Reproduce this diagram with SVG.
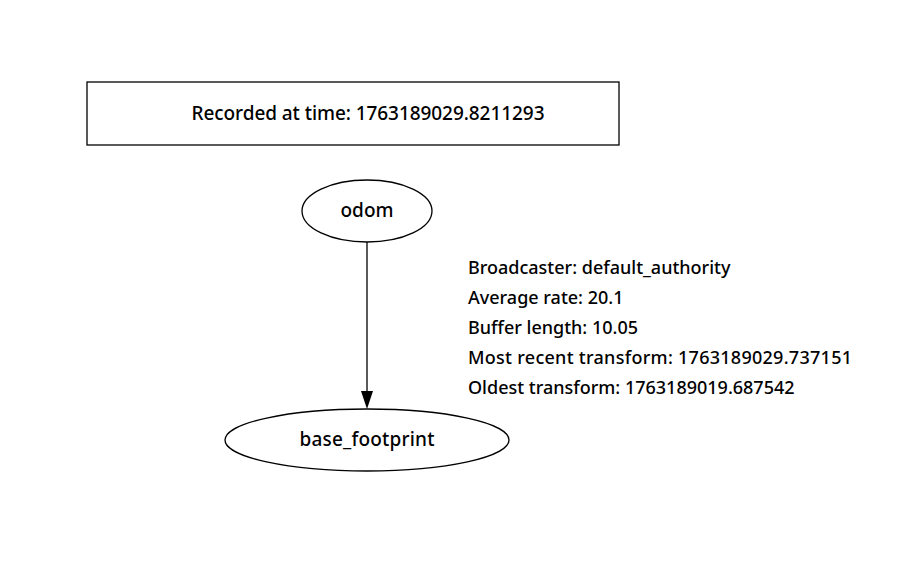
<svg xmlns="http://www.w3.org/2000/svg" width="917" height="573" viewBox="0 0 917 573">
<style>
text{font-family:"Noto Sans","Open Sans",sans-serif;font-size:18px;fill:#000;font-weight:500}
.n{font-size:19px}
.s{fill:none;stroke:#000;stroke-width:1.3}
</style>
<rect width="917" height="573" fill="#fff"/>
<g id="header"><rect class="s" x="87" y="82" width="532" height="63"/><text class="n" x="368" y="120" text-anchor="middle" textLength="353">Recorded at time: 1763189029.8211293</text></g>
<g id="odom"><ellipse class="s" cx="367" cy="211" rx="65" ry="31"/><text class="n" x="367" y="217" text-anchor="middle">odom</text></g>
<g id="base_footprint"><ellipse class="s" cx="367" cy="440" rx="142" ry="31"/><text class="n" x="367" y="446" text-anchor="middle" textLength="135">base_footprint</text></g>
<g id="connectors"><line class="s" x1="367" y1="242" x2="367" y2="392"/><path d="M361,391 L373,391 L367,409 Z" fill="#000"/>
<text x="468" y="274">Broadcaster: default_authority</text>
<text x="468" y="304">Average rate: 20.1</text>
<text x="468" y="334">Buffer length: 10.05</text>
<text x="468" y="364" textLength="384">Most recent transform: 1763189029.737151</text>
<text x="468" y="394">Oldest transform: 1763189019.687542</text></g>
</svg>
